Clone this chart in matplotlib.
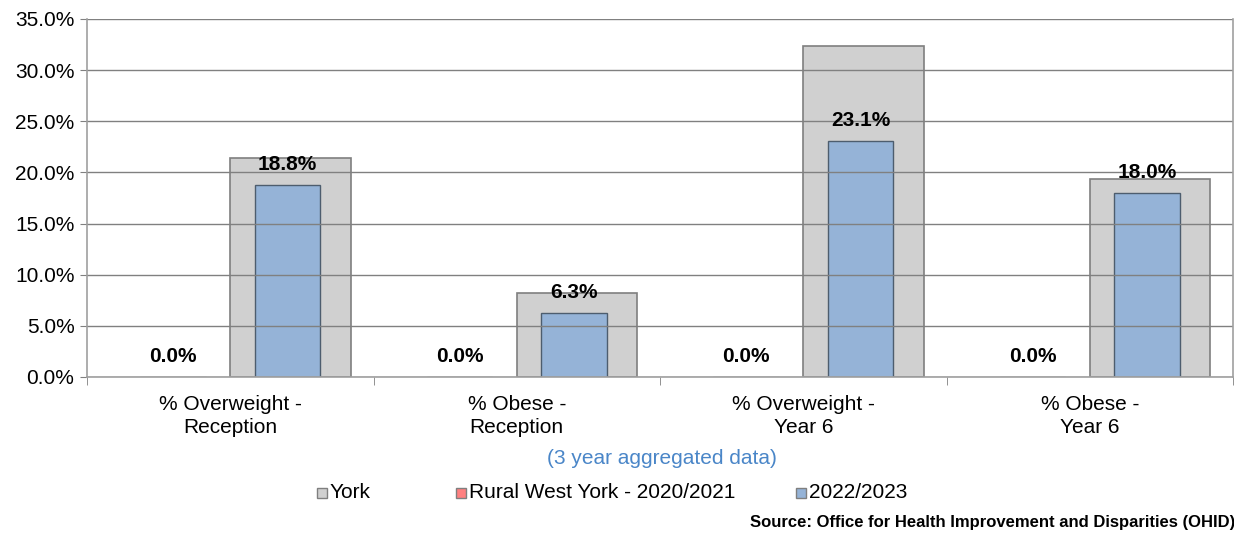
import numpy as np
import matplotlib.pyplot as plt
from matplotlib.patches import Rectangle

plt.rcParams['font.family'] = ['Liberation Sans', 'DejaVu Sans']

# Data
categories = ['% Overweight -\nReception', '% Obese -\nReception',
              '% Overweight -\nYear 6', '% Obese -\nYear 6']
york = [21.4, 8.2, 32.4, 19.4]
rural_2021 = [0.0, 0.0, 0.0, 0.0]
rural_2023 = [18.8, 6.3, 23.1, 18.0]
series_names = ['York', 'Rural West York - 2020/2021', '2022/2023']

grey = '#d0d0d0'
red = '#ff8080'
blue = '#95b3d7'

fig = plt.figure(figsize=(12.34, 5.35), dpi=100)
ax = fig.add_axes([87 / 1234, 158 / 535, 1146 / 1234, 358 / 535])

x = np.arange(len(categories))

# York drawn wide behind the other series
ax.bar(x + 0.21, york, width=0.42, color=grey, edgecolor='#7f7f7f', linewidth=1.2, zorder=1)
ax.bar(x - 0.2, rural_2021, width=0.23, color=red, edgecolor='#7f7f7f', linewidth=1, zorder=2)
ax.bar(x + 0.2, rural_2023, width=0.23, color=blue, edgecolor='#4d5d6e', linewidth=1, zorder=2)

for xi, v in zip(x - 0.2, rural_2021):
    ax.annotate(f'{v:.1f}%', (xi, v), xytext=(0, 15), textcoords='offset points',
                ha='center', va='center', fontsize=15, fontweight='bold', zorder=5)
for xi, v in zip(x + 0.2, rural_2023):
    ax.annotate(f'{v:.1f}%', (xi, v), xytext=(0, 14.5), textcoords='offset points',
                ha='center', va='center', fontsize=15, fontweight='bold', zorder=5)

ax.set_xlim(-0.5, len(categories) - 0.5)
ax.set_ylim(0, 35)
ax.set_yticks(np.arange(0, 36, 5))
ax.set_yticklabels([f'{t:.1f}%' for t in np.arange(0, 36, 5)], fontsize=15)
ax.set_xticks(x)
ax.set_xticklabels(categories, fontsize=15, linespacing=1.25)
ax.set_xticks(np.arange(-0.5, len(categories), 1), minor=True)
ax.tick_params(axis='x', which='major', length=0, pad=13)
ax.tick_params(axis='x', which='minor', length=6, color='#808080')
ax.tick_params(axis='y', length=5, color='#808080', pad=4)

ax.yaxis.grid(True, color='#808080', linewidth=1, zorder=3)
ax.set_axisbelow(False)
for s in ax.spines.values():
    s.set_color('#a0a0a0')
    s.set_linewidth(1.2)
    s.set_zorder(4)
ax.spines['top'].set_visible(False)

# Subtitle below the axis
fig.text(662 / 1234, 1 - 459 / 535, '(3 year aggregated data)', color='#4a86c8',
         fontsize=15, ha='center', va='center')

# Legend
legend_x = [317, 456, 796]
for lx, name, col in zip(legend_x, series_names, [grey, red, blue]):
    fig.patches.append(Rectangle((lx / 1234, 1 - 498 / 535), 10 / 1234, 10 / 535,
                                 transform=fig.transFigure, facecolor=col,
                                 edgecolor='#7f7f7f', linewidth=1))
    fig.text((lx + 13) / 1234, 1 - 492 / 535, name, fontsize=15, va='center', ha='left')

fig.text(750 / 1234, 1 - 523 / 535, 'Source: Office for Health Improvement and Disparities (OHID)',
         fontsize=12, fontweight='bold', va='center', ha='left')

plt.savefig('out.png', dpi=100)
